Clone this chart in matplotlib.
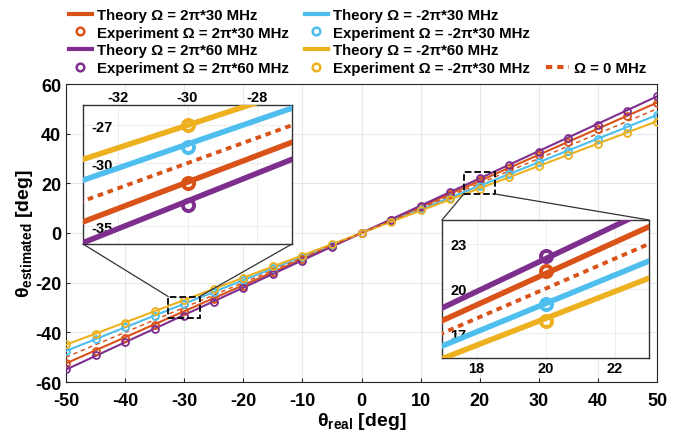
import numpy as np
import matplotlib
matplotlib.use('Agg')
import matplotlib.pyplot as plt
from matplotlib.lines import Line2D
from matplotlib.patches import Rectangle, ConnectionPatch

plt.rcParams['font.family'] = ['Liberation Sans', 'DejaVu Sans']
plt.rcParams['font.weight'] = 'bold'
plt.rcParams['axes.unicode_minus'] = False
plt.rcParams['mathtext.fontset'] = 'custom'
plt.rcParams['mathtext.rm'] = 'Liberation Sans'
plt.rcParams['mathtext.bf'] = 'Liberation Sans:bold'

# --- data ---
theta_real = [-50, -45, -40, -35, -30, -25, -20, -15, -10, -5, 0,
              5, 10, 15, 20, 25, 30, 35, 40, 45, 50]

# theory curves
th_p30 = [-52.5, -47.25, -42, -36.75, -31.5, -26.25, -21, -15.75, -10.5, -5.25, 0,
          5.25, 10.5, 15.75, 21, 26.25, 31.5, 36.75, 42, 47.25, 52.5]
th_m30 = [-47.5, -42.75, -38, -33.25, -28.5, -23.75, -19, -14.25, -9.5, -4.75, 0,
          4.75, 9.5, 14.25, 19, 23.75, 28.5, 33.25, 38, 42.75, 47.5]
th_p60 = [-55, -49.5, -44, -38.5, -33, -27.5, -22, -16.5, -11, -5.5, 0,
          5.5, 11, 16.5, 22, 27.5, 33, 38.5, 44, 49.5, 55]
th_m60 = [-45, -40.5, -36, -31.5, -27, -22.5, -18, -13.5, -9, -4.5, 0,
          4.5, 9, 13.5, 18, 22.5, 27, 31.5, 36, 40.5, 45]
th_0 = [-50, -45, -40, -35, -30, -25, -20, -15, -10, -5, 0,
        5, 10, 15, 20, 25, 30, 35, 40, 45, 50]

# experiment
ex_p30 = [-52.4, -47.5, -42.3, -36.9, -31.6, -26.4, -21.2, -15.9, -10.6, -5.3, 0.1,
          5.2, 10.4, 15.8, 21.2, 26.2, 31.4, 36.6, 41.9, 47.0, 52.4]
ex_m30 = [-47.4, -42.6, -38.0, -33.3, -28.7, -23.6, -19.0, -14.2, -9.6, -4.7, 0.1,
          4.8, 9.5, 14.1, 19.0, 23.7, 28.4, 33.1, 38.0, 42.6, 47.4]
ex_p60 = [-54.6, -49.3, -43.8, -38.6, -33.35, -27.8, -22.1, -16.7, -11.1, -5.6, 0.0,
          5.4, 10.9, 16.4, 22.2, 27.2, 32.8, 38.2, 43.6, 49.2, 55.0]
ex_m60 = [-44.7, -40.5, -36.1, -31.5, -27.0, -22.4, -18.1, -13.4, -9.1, -4.4, 0.0,
          4.6, 9.1, 13.6, 17.8, 22.6, 27.1, 31.4, 36.0, 40.4, 44.6]

c_or = '#D95319'
c_cy = '#4DBEEE'
c_pu = '#7E2F8E'
c_ye = '#EDB120'

series = [(th_p30, ex_p30, c_or), (th_m30, ex_m30, c_cy),
          (th_p60, ex_p60, c_pu), (th_m60, ex_m60, c_ye)]

fig = plt.figure(figsize=(6.79, 4.39), dpi=100)
ax = fig.add_axes([66/679, 1-383/439, 591/679, 298/439])


def draw(a, lw, ms, mew, dash):
    for th, ex, c in series:
        a.plot(theta_real, th, '-', color=c, lw=lw, zorder=3)
        a.plot(theta_real, ex, 'o', color=c, mfc='none', ms=ms, mew=mew, zorder=4)
    a.plot(theta_real, th_0, color=c_or, lw=lw*0.7, linestyle=dash, zorder=3)


draw(ax, 1.5, 5, 1.3, (0, (3, 2.5)))
ax.set_xlim(-50, 50)
ax.set_ylim(-60, 60)
ax.set_xticks(np.arange(-50, 51, 10))
ax.set_yticks(np.arange(-60, 61, 20))
ax.grid(True, color='#e8e8e8', lw=0.8)
ax.set_axisbelow(True)
ax.tick_params(direction='in', labelsize=13, length=3, color='#262626')
ax.tick_params(axis='x', pad=7)
for s in ax.spines.values():
    s.set_color('#262626')
ax.set_xlabel(r'θ$_{\mathrm{real}}$ [deg]', fontsize=14, fontweight='bold', labelpad=1)
ax.set_ylabel(r'θ$_{\mathrm{estimated}}$ [deg]', fontsize=14, fontweight='bold', labelpad=0)

# zoom boxes
box1 = (-32.7, -34.3, 5.3, 8.7)
box2 = (17.3, 15.7, 5.3, 8.7)
for bx in (box1, box2):
    ax.add_patch(Rectangle((bx[0], bx[1]), bx[2], bx[3], fill=False, ls='--',
                           lw=1.3, ec='black', zorder=6))

# insets
ins1 = fig.add_axes([83/679, 1-245/439, 209/679, 139/439])
ins2 = fig.add_axes([442/679, 1-359/439, 207/679, 138/439])
for a in (ins1, ins2):
    draw(a, 4, 8, 2.8, (0, (1.45, 1.25)))
    a.grid(True, color='#eeeeee', lw=0.8)
    a.set_axisbelow(True)
    a.tick_params(length=0, labelsize=10.5)
    a.set_facecolor('white')
    for s in a.spines.values():
        s.set_color('#333333')
        s.set_linewidth(1.0)

ins1.set_xlim(-33, -27)
ins1.set_ylim(-36.4, -25.4)
ins1.set_xticks([-32, -30, -28])
ins1.set_yticks([-35, -30, -27])
ins1.xaxis.tick_top()
ins1.tick_params(axis='x', pad=1)

ins2.set_xlim(17, 23)
ins2.set_ylim(15.35, 24.6)
ins2.set_xticks([18, 20, 22])
ins2.set_yticks([17, 20, 23])
ins2.tick_params(axis='x', pad=2)

for a in (ins1, ins2):
    a.tick_params(axis='y', pad=-6)
    for lbl in a.get_yticklabels():
        lbl.set_horizontalalignment('left')

# connector lines
for (xa, ya), (xb, yb), tgt in [((box1[0], box1[1] + box1[3]), (0, 0), ins1),
                                ((box1[0] + box1[2], box1[1] + box1[3]), (1, 0), ins1),
                                ((box2[0], box2[1]), (0, 1), ins2),
                                ((box2[0] + box2[2], box2[1]), (1, 1), ins2)]:
    cp = ConnectionPatch(xyA=(xa, ya), coordsA=ax.transData,
                         xyB=(xb, yb), coordsB=tgt.transAxes,
                         color='#333333', lw=0.9, zorder=5)
    fig.add_artist(cp)

# legend
blank = Line2D([], [], linestyle='none')
handles = [Line2D([], [], color=c_or, lw=3),
           Line2D([], [], color=c_or, marker='o', mfc='none', ms=5.5, mew=1.8, ls='none'),
           Line2D([], [], color=c_pu, lw=3),
           Line2D([], [], color=c_pu, marker='o', mfc='none', ms=5.5, mew=1.8, ls='none'),
           Line2D([], [], color=c_cy, lw=3),
           Line2D([], [], color=c_cy, marker='o', mfc='none', ms=5.5, mew=1.8, ls='none'),
           Line2D([], [], color=c_ye, lw=3),
           Line2D([], [], color=c_ye, marker='o', mfc='none', ms=5.5, mew=1.8, ls='none'),
           blank, blank, blank,
           Line2D([], [], color=c_or, lw=3, ls=(0, (1.5, 1.2)))]
labels = ['Theory Ω = 2π*30 MHz', 'Experiment Ω = 2π*30 MHz',
          'Theory Ω = 2π*60 MHz', 'Experiment Ω = 2π*60 MHz',
          'Theory Ω = -2π*30 MHz', 'Experiment Ω = -2π*30 MHz',
          'Theory Ω = -2π*60 MHz', 'Experiment Ω = -2π*30 MHz',
          '', '', '', 'Ω = 0 MHz']
fig.legend(handles, labels, ncol=3, loc='upper left',
           bbox_to_anchor=(69/679, 1-9/439), frameon=False,
           prop={'size': 10.8, 'weight': 'bold'}, handlelength=1.5,
           handletextpad=0.35, columnspacing=1.1, labelspacing=0.24,
           borderpad=0, borderaxespad=0)

fig.savefig('out.png', dpi=100)
